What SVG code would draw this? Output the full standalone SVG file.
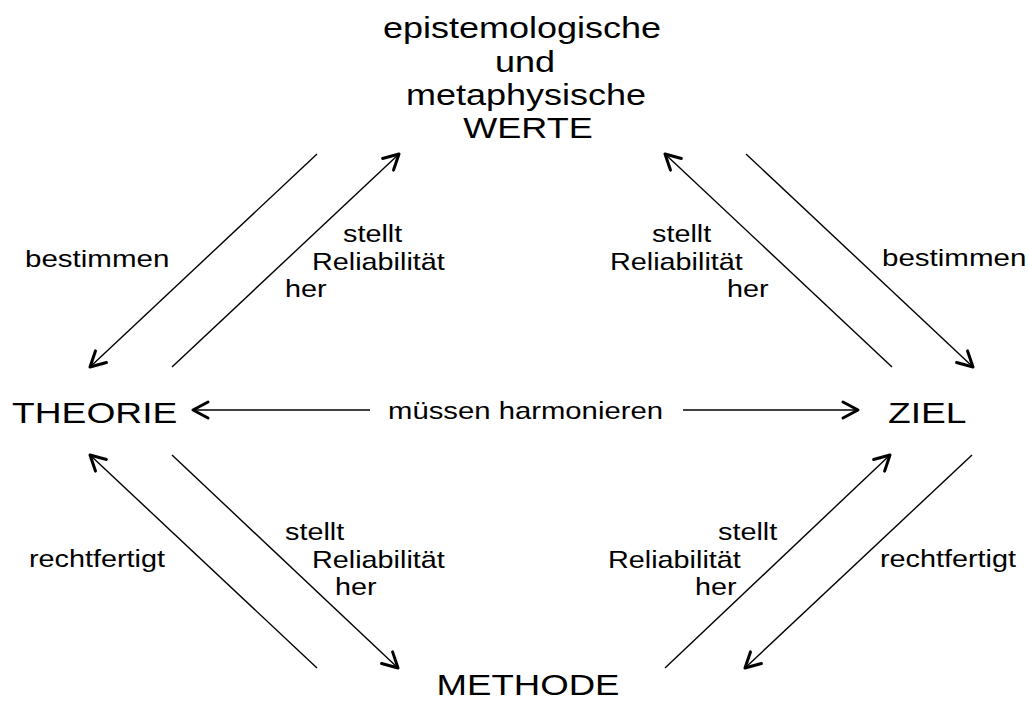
<svg xmlns="http://www.w3.org/2000/svg" width="1029" height="718" viewBox="0 0 1029 718">
<style>
.big{font-family:"Liberation Sans",Arial,sans-serif;font-size:30px;fill:#000}
.sm{font-family:"Liberation Sans",Arial,sans-serif;font-size:24px;fill:#000}
.c{text-anchor:middle}
.ln{stroke:#000;stroke-width:1.4;fill:none;marker-end:url(#ah)}
</style>
<defs>
<marker id="ah" markerUnits="userSpaceOnUse" viewBox="-20 -12 24 24" refX="0" refY="0" markerWidth="24" markerHeight="24" orient="auto">
<path d="M-15,-8 L0,0 L-15,8" fill="none" stroke="#000" stroke-width="3" stroke-linejoin="round" stroke-linecap="round"/>
</marker>
</defs>
<rect width="1029" height="718" fill="#fff"/>
<g id="werte">
<text class="big c" transform="translate(522,38) scale(1.2,1)">epistemologische</text>
<text class="big c" transform="translate(525,72) scale(1.2,1)">und</text>
<text class="big c" transform="translate(526,105) scale(1.2,1)">metaphysische</text>
<text class="big c" transform="translate(528,138) scale(1.2,1)">WERTE</text>
</g>
<g id="theorie">
<text class="big" transform="translate(12,423) scale(1.24,1)">THEORIE</text>
</g>
<g id="ziel">
<text class="big" transform="translate(888,423) scale(1.24,1)">ZIEL</text>
</g>
<g id="methode">
<text class="big c" transform="translate(528,695) scale(1.22,1)">METHODE</text>
</g>
<g id="connectors">
<line class="ln" x1="370" y1="410" x2="193" y2="410"/>
<line class="ln" x1="683" y1="410" x2="858" y2="410"/>
<line class="ln" x1="317" y1="154" x2="90" y2="367"/>
<line class="ln" x1="172" y1="367" x2="399" y2="154"/>
<line class="ln" x1="892" y1="367" x2="665" y2="154"/>
<line class="ln" x1="746" y1="154" x2="973" y2="367"/>
<line class="ln" x1="317" y1="668" x2="90" y2="455"/>
<line class="ln" x1="172" y1="455" x2="398" y2="668"/>
<line class="ln" x1="665" y1="668" x2="890" y2="455"/>
<line class="ln" x1="972" y1="455" x2="745" y2="668"/>
</g>
<g id="labels">
<text class="sm" transform="translate(388,419) scale(1.22,1)">müssen harmonieren</text>
<text class="sm" transform="translate(25,267) scale(1.23,1)">bestimmen</text>
<text class="sm" transform="translate(882,266) scale(1.23,1)">bestimmen</text>
<text class="sm" transform="translate(343,242) scale(1.2,1)">stellt</text>
<text class="sm" transform="translate(312,270) scale(1.2,1)">Reliabilität</text>
<text class="sm" transform="translate(285,297) scale(1.2,1)">her</text>
<text class="sm" transform="translate(652,242) scale(1.2,1)">stellt</text>
<text class="sm" transform="translate(610,270) scale(1.2,1)">Reliabilität</text>
<text class="sm" transform="translate(727,297) scale(1.2,1)">her</text>
<text class="sm" transform="translate(29,567) scale(1.2,1)">rechtfertigt</text>
<text class="sm" transform="translate(285,540) scale(1.2,1)">stellt</text>
<text class="sm" transform="translate(312,568) scale(1.2,1)">Reliabilität</text>
<text class="sm" transform="translate(335,595) scale(1.2,1)">her</text>
<text class="sm" transform="translate(718,540) scale(1.2,1)">stellt</text>
<text class="sm" transform="translate(608,568) scale(1.2,1)">Reliabilität</text>
<text class="sm" transform="translate(695,595) scale(1.2,1)">her</text>
<text class="sm" transform="translate(880,567) scale(1.2,1)">rechtfertigt</text>
</g>
</svg>
